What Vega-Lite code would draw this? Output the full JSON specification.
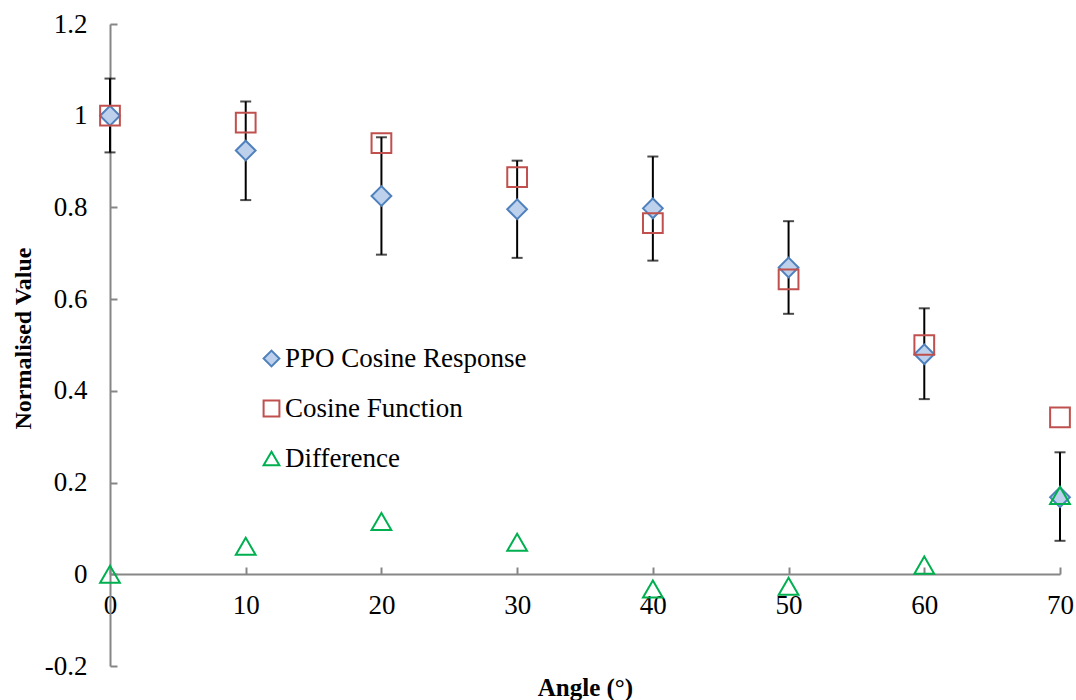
{
  "$schema": "https://vega.github.io/schema/vega-lite/v6.json",
  "autosize": "none",
  "width": 950,
  "height": 642,
  "padding": {"left": 110, "top": 24, "right": 16, "bottom": 34},
  "background": "white",
  "config": {
    "view": {"stroke": null},
    "font": "Liberation Serif",
    "axis": {"grid": false}
  },
  "data": {
    "values": [
      {"angle": 0, "series": "PPO Cosine Response", "value": 1.0, "lo": 0.92, "hi": 1.081},
      {"angle": 10, "series": "PPO Cosine Response", "value": 0.924, "lo": 0.816, "hi": 1.031},
      {"angle": 20, "series": "PPO Cosine Response", "value": 0.825, "lo": 0.697, "hi": 0.953},
      {"angle": 30, "series": "PPO Cosine Response", "value": 0.796, "lo": 0.69, "hi": 0.902},
      {"angle": 40, "series": "PPO Cosine Response", "value": 0.798, "lo": 0.684, "hi": 0.911},
      {"angle": 50, "series": "PPO Cosine Response", "value": 0.669, "lo": 0.568, "hi": 0.77},
      {"angle": 60, "series": "PPO Cosine Response", "value": 0.48, "lo": 0.382, "hi": 0.58},
      {"angle": 70, "series": "PPO Cosine Response", "value": 0.168, "lo": 0.073, "hi": 0.266},
      {"angle": 0, "series": "Cosine Function", "value": 1.0},
      {"angle": 10, "series": "Cosine Function", "value": 0.985},
      {"angle": 20, "series": "Cosine Function", "value": 0.94},
      {"angle": 30, "series": "Cosine Function", "value": 0.866},
      {"angle": 40, "series": "Cosine Function", "value": 0.766},
      {"angle": 50, "series": "Cosine Function", "value": 0.643},
      {"angle": 60, "series": "Cosine Function", "value": 0.5},
      {"angle": 70, "series": "Cosine Function", "value": 0.342},
      {"angle": 0, "series": "Difference", "value": 0.0},
      {"angle": 10, "series": "Difference", "value": 0.061},
      {"angle": 20, "series": "Difference", "value": 0.115},
      {"angle": 30, "series": "Difference", "value": 0.07},
      {"angle": 40, "series": "Difference", "value": -0.032},
      {"angle": 50, "series": "Difference", "value": -0.026},
      {"angle": 60, "series": "Difference", "value": 0.02},
      {"angle": 70, "series": "Difference", "value": 0.172}
    ]
  },
  "layer": [
    {
      "transform": [{"filter": "datum.series === 'PPO Cosine Response'"}],
      "mark": {"type": "rule", "color": "black", "strokeWidth": 2},
      "encoding": {
        "x": {"field": "angle", "type": "quantitative", "title": "Angle (°)"},
        "y": {"field": "lo", "type": "quantitative", "title": "Normalised Value"},
        "y2": {"field": "hi"}
      }
    },
    {
      "transform": [{"filter": "datum.series === 'PPO Cosine Response'"}],
      "mark": {"type": "tick", "orient": "horizontal", "color": "black", "size": 11, "thickness": 2},
      "encoding": {
        "x": {"field": "angle", "type": "quantitative", "title": "Angle (°)"},
        "y": {"field": "lo", "type": "quantitative", "title": "Normalised Value"}
      }
    },
    {
      "transform": [{"filter": "datum.series === 'PPO Cosine Response'"}],
      "mark": {"type": "tick", "orient": "horizontal", "color": "black", "size": 11, "thickness": 2},
      "encoding": {
        "x": {"field": "angle", "type": "quantitative", "title": "Angle (°)"},
        "y": {"field": "hi", "type": "quantitative", "title": "Normalised Value"}
      }
    },
    {
      "mark": {"type": "point", "filled": true, "size": 390, "strokeWidth": 2, "opacity": 1},
      "encoding": {
        "x": {
          "field": "angle",
          "type": "quantitative",
          "title": "Angle (°)",
          "scale": {"domain": [0, 70], "nice": false},
          "axis": {
            "offset": -92,
            "values": [0, 10, 20, 30, 40, 50, 60, 70],
            "labelFlush": false,
            "domainColor": "#868686",
            "domainWidth": 2,
            "tickColor": "#868686",
            "tickWidth": 2,
            "tickSize": -7,
            "labelFontSize": 27,
            "labelColor": "black",
            "labelPadding": 25,
            "labelFont": "Liberation Serif",
            "titleFont": "Liberation Serif",
            "titleFontSize": 25,
            "titleFontWeight": "bold",
            "titleColor": "black",
            "titleX": 475,
            "titleY": 121,
            "titleBaseline": "alphabetic"
          }
        },
        "y": {
          "field": "value",
          "type": "quantitative",
          "title": "Normalised Value",
          "scale": {"domain": [-0.2, 1.2], "nice": false, "zero": false},
          "axis": {
            "values": [-0.2, 0, 0.2, 0.4, 0.6, 0.8, 1, 1.2],
            "labelExpr": "'' + datum.value",
            "labelFlush": false,
            "domainColor": "#868686",
            "domainWidth": 2,
            "tickColor": "#868686",
            "tickWidth": 2,
            "tickSize": -7,
            "labelFontSize": 27,
            "labelColor": "black",
            "labelPadding": 30,
            "labelFont": "Liberation Serif",
            "titleFont": "Liberation Serif",
            "titleFontSize": 24,
            "titleFontWeight": "bold",
            "titleColor": "black",
            "titleX": -87,
            "titleY": 314,
            "titleAngle": -90,
            "titleAlign": "center",
            "titleBaseline": "middle"
          }
        },
        "shape": {
          "field": "series",
          "type": "nominal",
          "scale": {
            "domain": ["PPO Cosine Response", "Cosine Function", "Difference"],
            "range": ["diamond", "square", "triangle-up"]
          },
          "legend": {
            "title": null,
            "orient": "none",
            "legendX": 148,
            "legendY": 321,
            "padding": 0,
            "labelFont": "Liberation Serif",
            "labelFontSize": 27,
            "labelColor": "black",
            "labelOffset": 0,
            "labelLimit": 0,
            "rowPadding": 22,
            "symbolSize": 250,
            "symbolStrokeWidth": 2
          }
        },
        "stroke": {
          "field": "series",
          "type": "nominal",
          "scale": {
            "domain": ["PPO Cosine Response", "Cosine Function", "Difference"],
            "range": ["#4f81bd", "#c0504d", "#00b050"]
          },
          "legend": {
            "title": null,
            "orient": "none",
            "legendX": 148,
            "legendY": 321,
            "padding": 0,
            "labelFont": "Liberation Serif",
            "labelFontSize": 27,
            "labelColor": "black",
            "labelOffset": 0,
            "labelLimit": 0,
            "rowPadding": 22,
            "symbolSize": 250,
            "symbolStrokeWidth": 2
          }
        },
        "fill": {
          "field": "series",
          "type": "nominal",
          "scale": {
            "domain": ["PPO Cosine Response", "Cosine Function", "Difference"],
            "range": ["#bdd0ec", "rgba(255,255,255,0)", "rgba(255,255,255,0)"]
          },
          "legend": {
            "title": null,
            "orient": "none",
            "legendX": 148,
            "legendY": 321,
            "padding": 0,
            "labelFont": "Liberation Serif",
            "labelFontSize": 27,
            "labelColor": "black",
            "labelOffset": 0,
            "labelLimit": 0,
            "rowPadding": 22,
            "symbolSize": 250,
            "symbolStrokeWidth": 2
          }
        }
      }
    }
  ]
}
